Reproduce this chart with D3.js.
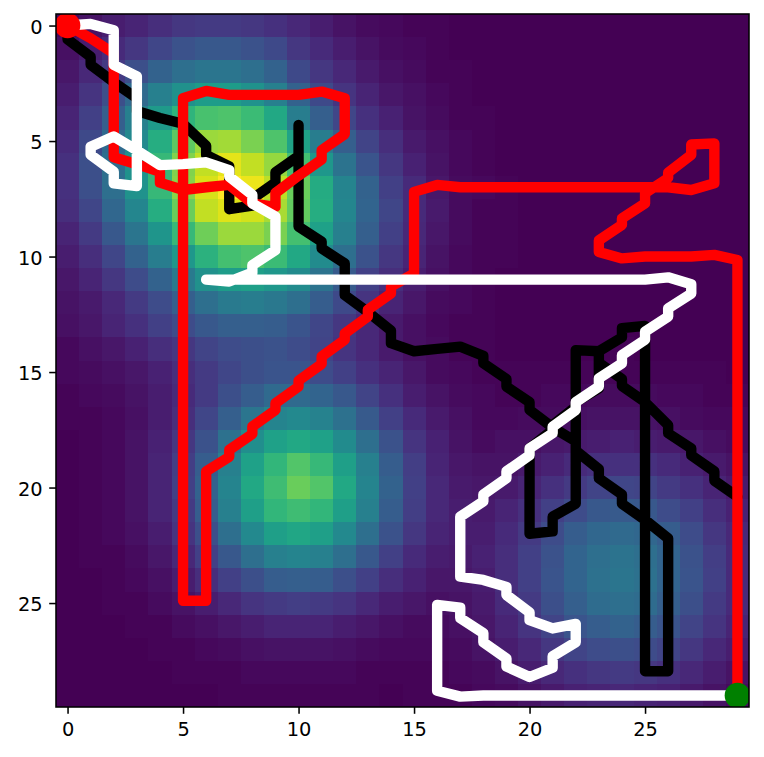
<!DOCTYPE html>
<html><head><meta charset="utf-8">
<script src="https://cdn.jsdelivr.net/npm/d3@7"></script>
<style>html,body{margin:0;padding:0;background:#fff;overflow:hidden}svg{display:block}
.tick text{font-family:"DejaVu Sans",sans-serif;font-size:19.4px;fill:#000}</style>
</head><body><svg id="c" width="764" height="757"></svg>
<script>
const heat = [
[.02,.05,.08,.10,.13,.16,.17,.17,.16,.14,.11,.08,.05,.03,.02,.01,.01,0,0,0,0,0,0,0,0,0,0,0,0,0],
[.04,.08,.12,.16,.21,.25,.27,.27,.25,.22,.16,.12,.08,.05,.03,.02,.01,0,0,0,0,0,0,0,0,0,0,0,0,0],
[.06,.11,.17,.24,.31,.36,.39,.39,.36,.31,.22,.16,.11,.07,.04,.03,.01,.01,0,0,0,0,0,0,0,0,0,0,0,0],
[.08,.15,.24,.34,.43,.50,.55,.55,.51,.43,.31,.22,.15,.10,.06,.04,.02,.01,0,0,0,0,0,0,0,0,0,0,0,0],
[.10,.19,.30,.43,.54,.65,.71,.72,.68,.60,.42,.30,.21,.14,.09,.05,.03,.01,.01,0,0,0,0,0,0,0,0,0,0,0],
[.12,.22,.34,.47,.62,.75,.85,.86,.80,.72,.58,.42,.30,.20,.13,.07,.04,.02,.01,0,0,0,0,0,0,0,0,0,0,0],
[.14,.24,.36,.51,.67,.81,.91,.96,.91,.84,.70,.53,.38,.26,.16,.09,.05,.02,.01,0,0,0,0,0,0,0,0,0,0,0],
[.14,.24,.36,.51,.67,.82,.94,1,.97,.90,.77,.61,.45,.31,.19,.12,.06,.03,.02,.01,0,0,0,0,0,0,0,0,0,0],
[.13,.21,.33,.46,.62,.77,.91,.95,.93,.87,.76,.62,.46,.32,.21,.12,.07,.03,.01,.01,0,0,0,0,0,0,0,0,0,0],
[.10,.17,.27,.39,.52,.67,.78,.85,.85,.80,.70,.57,.43,.30,.19,.11,.06,.03,.01,.01,0,0,0,0,0,0,0,0,0,0],
[.08,.13,.21,.31,.42,.53,.64,.70,.72,.68,.60,.48,.36,.25,.16,.10,.05,.02,.01,.01,0,0,0,0,0,0,0,0,0,0],
[.06,.10,.16,.23,.31,.41,.50,.55,.56,.53,.48,.38,.28,.19,.13,.08,.04,.02,.01,0,0,0,0,0,0,0,0,0,0,0],
[.05,.07,.11,.17,.23,.30,.36,.41,.42,.40,.36,.29,.22,.15,.10,.06,.03,.02,.01,0,0,0,0,0,0,0,0,0,0,0],
[.04,.06,.10,.14,.19,.23,.27,.30,.30,.29,.26,.21,.16,.11,.07,.04,.02,.01,.01,0,0,0,0,0,0,0,0,0,0,0],
[.02,.04,.06,.09,.13,.16,.20,.23,.24,.25,.23,.20,.15,.11,.07,.04,.03,.01,.01,0,0,0,0,0,.01,0,0,0,0,0],
[.02,.03,.04,.06,.09,.13,.17,.21,.24,.26,.26,.23,.19,.14,.10,.06,.03,.02,.01,.01,.01,.01,.01,.01,.01,.01,.01,.01,.01,0],
[.01,.02,.03,.05,.08,.12,.17,.24,.29,.34,.34,.32,.27,.20,.14,.08,.05,.03,.02,.01,.01,.02,.02,.03,.03,.03,.02,.02,.01,.01],
[.01,.01,.02,.04,.08,.13,.21,.30,.39,.45,.47,.44,.37,.28,.19,.12,.07,.04,.02,.02,.03,.03,.04,.05,.05,.05,.04,.03,.02,.02],
[0,.01,.02,.05,.09,.16,.25,.37,.49,.57,.60,.57,.48,.36,.25,.15,.09,.05,.03,.04,.04,.06,.07,.08,.09,.08,.07,.06,.04,.03],
[0,.01,.02,.05,.10,.18,.29,.43,.57,.66,.73,.67,.56,.43,.29,.18,.10,.06,.05,.05,.07,.09,.12,.14,.14,.14,.12,.09,.07,.05],
[0,.01,.02,.05,.10,.19,.31,.45,.60,.69,.77,.73,.60,.45,.31,.19,.11,.07,.06,.07,.10,.14,.17,.20,.21,.20,.17,.14,.10,.07],
[0,.01,.02,.05,.10,.17,.29,.43,.56,.66,.69,.66,.56,.43,.29,.18,.11,.08,.07,.10,.14,.19,.23,.27,.28,.27,.23,.19,.13,.09],
[0,.01,.02,.04,.08,.15,.24,.36,.47,.56,.59,.56,.47,.36,.25,.16,.10,.08,.08,.12,.17,.23,.29,.33,.34,.33,.29,.23,.16,.11],
[0,.01,.01,.03,.06,.11,.19,.27,.36,.43,.45,.43,.36,.27,.19,.12,.08,.07,.09,.13,.19,.25,.32,.36,.38,.36,.32,.25,.18,.12],
[0,0,.01,.02,.04,.08,.13,.19,.24,.29,.30,.29,.24,.19,.13,.09,.06,.06,.08,.13,.19,.26,.32,.37,.39,.37,.32,.26,.19,.12],
[0,0,.01,.01,.03,.05,.08,.11,.15,.17,.18,.17,.15,.11,.08,.06,.04,.05,.07,.12,.17,.24,.30,.35,.36,.35,.30,.24,.17,.12],
[0,0,0,.01,.01,.03,.04,.06,.08,.10,.10,.10,.08,.06,.04,.03,.03,.04,.06,.10,.15,.20,.26,.29,.31,.29,.26,.20,.15,.10],
[0,0,0,0,.01,.01,.02,.03,.04,.05,.05,.05,.04,.03,.02,.02,.02,.03,.05,.08,.11,.16,.20,.23,.24,.23,.20,.16,.11,.08],
[0,0,0,0,0,.01,.01,.01,.02,.02,.02,.02,.02,.01,.01,.01,.01,.02,.03,.05,.08,.11,.14,.16,.17,.16,.14,.11,.08,.05],
[0,0,0,0,0,0,0,.01,.01,.01,.01,.01,.01,.01,0,.01,.01,.01,.02,.03,.05,.07,.09,.10,.11,.10,.09,.07,.05,.03]
];
const tickValues = [0,5,10,15,20,25];
const blackPath = [[0,0],[0,.6],[1,1.35],[1,1.7],[2,2.45],[3,3.15],[3,3.7],[4,4],[5,4.25],[6,5.2],[6,5.6],[7,6.1],[7,7.95],[8,7.8],[8,7.5],[9,6.8],[9,6.35],[10,5.65],[10,4.3],[10,8.7],[11,9.35],[11,9.65],[12,10.3],[12,11.67],[13,12.4],[14,13.2],[14,13.75],[15,14.1],[16,14],[17,13.9],[18,14.3],[18,14.62],[19,15.3],[19,15.63],[20,16.3],[20,16.64],[21,17.4],[22,18],[22,18.4],[23,19.2],[23,19.6],[24,20.3],[24,20.7],[25,21.4],[26,22.2],[26,27.95],[25,27.95],[25,13],[24,13.1],[24,13.5],[23,14.1],[22,14.05],[22,20.7],[21,21.26],[21,21.9],[20,22],[20,18.3],[21,17.5],[21,17.3],[22,16.5],[22,16.3],[23,15.7],[23,14.1],[23,14.6],[24,15.3],[24,15.6],[25,16.3],[26,17.3],[26,17.65],[27,18.3],[27,18.6],[28,19.3],[28,19.7],[29,20.4]];
const redPath = [[0,0],[1,.55],[2,1.2],[2,5.7],[3,6],[4,6.33],[4,6.8],[5,7.12],[6,7],[7,6.9],[8,7.7],[9,7.85],[9,7.25],[10,6.5],[11,5.8],[11,5.4],[12,4.7],[12,3.15],[11,2.86],[10,3],[9,3],[8,3],[7,3],[6,2.83],[5,3.15],[5,24.9],[6,24.9],[6,19.3],[7,18.67],[7,18.37],[8,17.68],[8,17.36],[9,16.64],[9,16.35],[10,15.63],[10,15.37],[11,14.65],[11,14.33],[12,13.6],[12,13.33],[13,12.6],[13,12.3],[14,11.6],[14,11.3],[15,10.73],[15,7.2],[16,6.9],[17,7],[18,7],[19,7],[20,7],[21,7],[22,7],[23,7],[24,7],[25,7],[26,7],[27,7.12],[28,6.83],[28,5.1],[27,5.15],[27,5.6],[26,6.37],[26,6.6],[25,7.26],[25,7.7],[24,8.35],[24,8.63],[23,9.3],[23,9.8],[24,10.08],[25,10],[26,10],[27,10],[28,9.93],[29,10.15],[29,29]];
const whitePath = [[0,0],[1,-.07],[2,.2],[2,1.7],[3,2.2],[3,6.95],[2,6.83],[2,6.33],[1,5.6],[1,5.25],[2,4.8],[3,5.4],[4,6.04],[5,6],[6,5.92],[7,6.26],[7,6.54],[8,7.33],[8,7.7],[9,8.27],[9,9.72],[8,10.37],[8,10.7],[7,11.08],[6,11],[7,11],[8,11],[9,11],[10,11],[11,11],[12,11],[13,11],[14,11],[15,11],[16,11],[17,11],[18,11],[19,11],[20,11],[21,11],[22,11],[23,11],[24,11],[25,11],[26,10.9],[27,11.2],[27,11.6],[26,12.24],[26,12.6],[25,13.25],[25,13.6],[24,14.27],[24,14.62],[23,15.27],[23,15.63],[22,16.3],[22,16.64],[21,17.37],[21,17.65],[20,18.3],[20,18.6],[19,19.3],[19,19.6],[18,20.3],[18,20.6],[17,21.26],[17,23.86],[18,24],[19,24.3],[19,24.65],[20,25.4],[20,25.74],[21,26.1],[22,25.9],[22,26.7],[21,27.3],[21,27.8],[20,28.2],[19,27.75],[19,27.4],[18,26.7],[18,26.3],[17,25.65],[17,25.2],[16,25.08],[16,28.8],[17,29.05],[18,29],[19,29],[20,29],[21,29],[22,29],[23,29],[24,29],[25,29],[26,29],[27,29],[28,29],[29,29]];
const startPoint = [0,0], endPoint = [29,29];

const L=56,T=14,S=693;
const svg=d3.select('#c');
const x=d3.scaleLinear().domain([-.5,29.5]).range([L,L+S]);
const y=d3.scaleLinear().domain([-.5,29.5]).range([T,T+S]);
const col=d3.scaleSequential(d3.interpolateViridis).domain([0,1]);
svg.append('defs').append('clipPath').attr('id','clip').append('rect').attr('x',L).attr('y',T).attr('width',S).attr('height',S);
const g=svg.append('g').attr('clip-path','url(#clip)');
g.append('g').attr('shape-rendering','crispEdges').selectAll('g').data(heat).join('g').each(function(row,j){
  d3.select(this).selectAll('rect').data(row).join('rect')
   .attr('x',(d,i)=>x(i-.5)).attr('y',y(j-.5))
   .attr('width',x(1)-x(0)+.5).attr('height',y(1)-y(0)+.5).attr('fill',d=>col(d));
});
const line=d3.line().x(d=>x(d[0])).y(d=>y(d[1]));
[[blackPath,'#000'],[redPath,'#f00'],[whitePath,'#fff']].forEach(([p,c])=>{
  g.append('path').attr('d',line(p)).attr('fill','none').attr('stroke',c).attr('stroke-width',10.4)
   .attr('stroke-linejoin','round').attr('stroke-linecap','round');
});
g.append('circle').attr('cx',x(startPoint[0])).attr('cy',y(startPoint[1])).attr('r',12.8).attr('fill','#f00');
g.append('circle').attr('cx',x(endPoint[0])).attr('cy',y(endPoint[1])).attr('r',12.8).attr('fill','#008000');
const ax=svg.append('g').attr('transform',`translate(0,${T+S})`).call(d3.axisBottom(x).tickValues(tickValues).tickFormat(d3.format('d')).tickSizeOuter(0).tickSize(6.8).tickPadding(8.5));
const ay=svg.append('g').attr('transform',`translate(${L},0)`).call(d3.axisLeft(y).tickValues(tickValues).tickFormat(d3.format('d')).tickSizeOuter(0).tickSize(6.8).tickPadding(6.5));
ay.selectAll('text').attr('dy','0.4em');
[ax,ay].forEach(a=>{a.select('.domain').remove();a.selectAll('line').attr('stroke','#000').attr('stroke-width',1.55);});
svg.append('rect').attr('x',L).attr('y',T).attr('width',S).attr('height',S).attr('fill','none').attr('stroke','#000').attr('stroke-width',1.55);
</script></body></html>
